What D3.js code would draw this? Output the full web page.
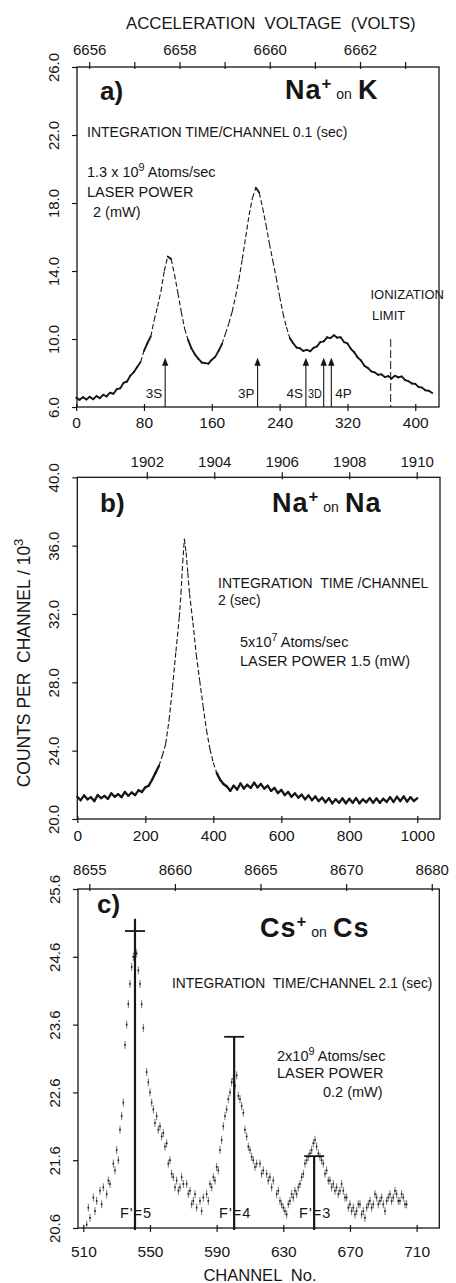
<!DOCTYPE html>
<html>
<head>
<meta charset="utf-8">
<script src="https://cdn.jsdelivr.net/npm/d3@7"></script>
<style>
  body { margin: 0; background: #fff; }
  svg { display: block; }
  text { font-family: 'Liberation Sans', Arial, sans-serif; }
</style>
</head>
<body>
<svg id="chart"></svg>
<script>
// ---------- data ----------

// a) Na+ on K  (channel / counts per channel in 10^3)
const aChannel = [0, 4, 8, 12, 16, 20, 24, 28, 32, 36, 40, 44, 48, 52, 56, 60, 64, 68, 72, 76,
  80, 84, 88, 92, 96, 100, 104, 108, 112, 116, 120, 124, 128, 132, 136, 140, 144, 148, 152, 156,
  160, 164, 168, 172, 176, 180, 184, 188, 192, 196, 200, 204, 208, 212, 216, 220, 224, 228, 232, 236,
  240, 244, 248, 252, 256, 260, 264, 268, 272, 276, 280, 284, 288, 292, 296, 300, 304, 308, 312, 316,
  320, 324, 328, 332, 336, 340, 344, 348, 352, 356, 360, 364, 368, 372, 376, 380, 384, 388, 392, 396,
  400, 404, 408, 412, 416, 420];
const aCounts = [6.55, 6.42, 6.58, 6.44, 6.60, 6.46, 6.64, 6.52, 6.72, 6.62, 6.84, 6.78, 7.05, 7.10, 7.42, 7.50, 7.85, 8.05, 8.35, 8.65,
  9.30, 9.75, 10.15, 11.10, 11.90, 12.80, 14.00, 14.85, 14.70, 13.80, 12.70, 11.60, 10.60, 9.95, 9.45, 9.10, 8.85, 8.62, 8.58, 8.55,
  8.78, 8.95, 9.30, 9.70, 10.30, 10.90, 11.60, 12.50, 13.50, 14.70, 16.00, 17.30, 18.30, 18.90, 18.60, 17.70, 16.70, 15.60, 14.60, 13.60,
  12.50, 11.50, 10.70, 10.05, 9.75, 9.50, 9.45, 9.30, 9.36, 9.28, 9.48, 9.56, 9.82, 9.86, 10.10, 10.05, 10.22, 10.08, 10.10, 9.82,
  9.74, 9.42, 9.22, 8.92, 8.74, 8.42, 8.30, 8.10, 8.04, 7.90, 7.92, 7.76, 7.82, 7.68, 7.84, 7.74, 7.80, 7.58, 7.52, 7.38,
  7.36, 7.18, 7.14, 6.98, 6.96, 6.82];
const aLevelChannel = [105, 214, 271, 292, 301];
const aLevelLabel = ['3S', '3P', '4S', '3D', '4P'];
const aArrowTip = 8.9;
const aIonLimit = 371;
const aIonTop = 10.0;
const aChannelTicks = [0, 80, 160, 240, 320, 400];
const aVoltTicks = [6656, 6657, 6658, 6659, 6660, 6661, 6662, 6663];
const aCountTicks = [6, 10, 14, 18, 22, 26];

// b) Na+ on Na
const bChannel = [0, 10, 20, 30, 40, 50, 60, 70, 80, 90, 100, 110, 120, 130, 140, 150, 160, 170, 180, 190,
  200, 210, 220, 230, 240, 250, 260, 270, 280, 290, 300, 305, 310, 315, 320, 325, 330, 340, 350, 360,
  370, 380, 390, 400, 410, 420, 430, 440, 450, 460, 470, 480, 490, 500, 510, 520, 530, 540, 550, 560,
  570, 580, 590, 600, 610, 620, 630, 640, 650, 660, 670, 680, 690, 700, 710, 720, 730, 740, 750, 760,
  770, 780, 790, 800, 810, 820, 830, 840, 850, 860, 870, 880, 890, 900, 910, 920, 930, 940, 950, 960,
  970, 980, 990, 1000];
const bCounts = [21.30, 21.10, 21.38, 21.15, 21.28, 21.05, 21.40, 21.22, 21.35, 21.18, 21.50, 21.30, 21.45, 21.28, 21.58, 21.36, 21.55, 21.40, 21.68, 21.58,
  21.85, 21.95, 22.30, 22.70, 23.10, 23.70, 24.40, 25.80, 27.70, 29.80, 31.80, 33.20, 35.00, 36.40, 35.60, 34.40, 33.20, 31.50, 29.60, 28.10,
  26.60, 25.20, 24.10, 23.30, 22.70, 22.30, 22.05, 21.90, 21.65, 21.95, 21.72, 22.08, 21.78, 22.00, 21.82, 22.12, 21.85, 22.05, 21.78, 21.95,
  21.65, 21.82, 21.52, 21.70, 21.40, 21.58, 21.30, 21.50, 21.25, 21.42, 21.15, 21.38, 21.10, 21.32, 21.05, 21.25, 20.98, 21.22, 20.92, 21.15,
  20.95, 21.20, 20.92, 21.18, 20.95, 21.22, 20.92, 21.15, 20.98, 21.22, 20.95, 21.20, 20.95, 21.18, 21.00, 21.28, 21.00, 21.30, 21.05, 21.32,
  21.02, 21.28, 21.05, 21.22];
const bChannelTicks = [0, 200, 400, 600, 800, 1000];
const bVoltTicks = [1902, 1904, 1906, 1908, 1910];
const bCountTicks = [20, 24, 28, 32, 36, 40];

// c) Cs+ on Cs
const cChannel = [512, 513, 514, 516, 517, 518, 520, 521, 522, 524, 525, 526, 528, 529, 530, 531, 532, 533, 534, 535,
  536, 537, 538, 539, 540, 541, 542, 543, 544, 545, 546, 548, 549, 550, 551, 552, 553, 554, 555, 556,
  557, 558, 559, 560, 561, 562, 563, 564, 565, 566, 567, 568, 569, 570, 572, 573, 574, 575, 576, 577,
  578, 580, 581, 582, 584, 585, 586, 587, 588, 589, 590, 591, 592, 593, 594, 595, 596, 597, 598, 599,
  600, 601, 602, 603, 604, 605, 606, 607, 608, 609, 610, 611, 612, 613, 614, 616, 617, 618, 620, 621,
  622, 623, 624, 626, 627, 628, 629, 630, 631, 632, 633, 634, 635, 636, 637, 638, 639, 640, 641, 642,
  643, 644, 645, 646, 647, 648, 649, 650, 651, 652, 653, 654, 655, 656, 657, 658, 659, 660, 661, 662,
  663, 664, 665, 666, 667, 668, 669, 670, 671, 672, 673, 674, 675, 676, 677, 678, 679, 680, 681, 682,
  683, 684, 685, 686, 687, 688, 689, 690, 691, 692, 693, 694, 695, 696, 697, 698, 699, 700, 701, 702,
  703, 704];
const cCounts = [20.65, 20.90, 20.75, 21.05, 20.85, 21.00, 21.15, 20.95, 21.20, 21.10, 21.30, 21.25, 21.55, 21.45, 21.75, 21.60, 22.05, 22.25, 22.45, 23.30,
  23.60, 23.90, 24.20, 24.45, 24.60, 24.90, 24.65, 24.40, 24.20, 23.90, 23.55, 22.90, 22.75, 22.60, 22.45, 22.35, 22.15, 22.25, 22.05, 22.10,
  21.95, 22.00, 21.80, 21.85, 21.55, 21.60, 21.40, 21.35, 21.20, 21.30, 21.15, 21.20, 21.35, 21.25, 21.25, 21.10, 21.15, 20.95, 21.00, 21.10,
  20.90, 21.00, 20.85, 21.05, 21.10, 21.00, 21.25, 21.20, 21.35, 21.30, 21.50, 21.45, 21.75, 21.90, 22.10, 22.25, 22.35, 22.50, 22.60, 22.75,
  22.80, 22.70, 22.85, 22.55, 22.50, 22.40, 22.30, 22.05, 21.95, 21.80, 21.75, 21.65, 21.60, 21.50, 21.55, 21.55, 21.40, 21.45, 21.40, 21.30,
  21.35, 21.20, 21.30, 21.10, 21.15, 21.00, 20.95, 20.90, 20.85, 20.80, 20.95, 21.00, 21.10, 21.05, 21.15, 21.10, 21.20, 21.25, 21.35, 21.40,
  21.55, 21.60, 21.65, 21.70, 21.75, 21.85, 21.90, 21.80, 21.70, 21.65, 21.60, 21.55, 21.40, 21.45, 21.30, 21.30, 21.20, 21.25, 21.15, 21.20,
  21.10, 21.15, 21.25, 21.15, 21.05, 21.05, 20.90, 20.95, 20.85, 20.90, 20.80, 20.85, 20.95, 20.95, 20.80, 20.85, 20.75, 20.90, 20.95, 21.00,
  20.90, 20.95, 21.10, 21.05, 20.95, 21.00, 21.05, 20.95, 20.85, 21.00, 21.05, 21.10, 21.00, 21.05, 21.15, 21.10, 21.00, 21.00, 21.10, 21.05,
  20.95, 20.95];
const cMarkerChannel = [541, 600.5, 648.5];
const cMarkerTop = [25.16, 23.42, 21.66];
const cMarkerBar = [24.98, 23.42, 21.66];
const cMarkerLabel = ["F'=5", "F'=4", "F'=3"];
const cChannelTicks = [510, 550, 590, 630, 670, 710];
const cVoltTicks = [8655, 8660, 8665, 8670, 8675];
const cVoltLabels = ['8655', '8660', '8665', '8670', '8680'];
const cCountTicks = [20.6, 21.6, 22.6, 23.6, 24.6, 25.6];

// ---------- layout ----------
const ink = '#161616';
const width = 456;
const height = 1283;

const svg = d3.select('#chart')
    .attr('width', width)
    .attr('height', height)
    .style('background-color', 'white');

// pixel boxes of the three frames
const boxA = { left: 77, right: 439, top: 67, bottom: 407 };
const boxB = { left: 77.3, right: 440, top: 477.3, bottom: 819 };
const boxC = { left: 78, right: 439.3, top: 889, bottom: 1228 };

// scales
const xA = d3.scaleLinear().domain([1, 428]).range([boxA.left, boxA.right]);
const vA = d3.scaleLinear().domain([6655.73, 6663.75]).range([boxA.left, boxA.right]);
const yA = d3.scaleLinear().domain([6, 26]).range([boxA.bottom, boxA.top]);

const xB = d3.scaleLinear().domain([0, 1066.8]).range([boxB.left, boxB.right]);
const vB = d3.scaleLinear().domain([1899.94, 1910.69]).range([boxB.left, boxB.right]);
const yB = d3.scaleLinear().domain([20, 40]).range([boxB.bottom, boxB.top]);

const xC = d3.scaleLinear().domain([506.8, 723.6]).range([boxC.left, boxC.right]);
const vC = d3.scaleLinear().domain([8654.34, 8675.44]).range([boxC.left, boxC.right]);
const yC = d3.scaleLinear().domain([20.6, 25.6]).range([boxC.bottom, boxC.top]);

// frame + axes of one panel
function drawFrame(box, x, v, y, opt) {
    svg.append('rect')
        .attr('x', box.left).attr('y', box.top)
        .attr('width', box.right - box.left).attr('height', box.bottom - box.top)
        .attr('fill', 'none').attr('stroke', ink).attr('stroke-width', 1.3);

    // top axis (voltage)
    const gTop = svg.append('g')
        .attr('transform', `translate(0,${box.top})`)
        .call(d3.axisTop(v).tickValues(opt.voltTicks).tickSize(5)
            .tickFormat((d, i) => opt.voltLabels[i]));
    gTop.select('.domain').remove();
    gTop.selectAll('.tick line').attr('y1', 2).attr('stroke', ink).attr('stroke-width', 1.2);
    gTop.selectAll('.tick text')
        .attr('y', opt.topLabelY).attr('dy', 0)
        .attr('font-size', 15).attr('fill', ink);

    // bottom axis (channel)
    const gBot = svg.append('g')
        .attr('transform', `translate(0,${box.bottom})`)
        .call(d3.axisBottom(x).tickValues(opt.channelTicks).tickSize(4).tickFormat(d3.format('d')));
    gBot.select('.domain').remove();
    gBot.selectAll('.tick line').attr('y1', -3).attr('stroke', ink).attr('stroke-width', 1.2);
    gBot.selectAll('.tick text')
        .attr('y', opt.bottomLabelY).attr('dy', 0)
        .attr('font-size', 15.5).attr('fill', ink);

    // left axis (counts), labels turned
    const gLeft = svg.append('g')
        .attr('transform', `translate(${box.left},0)`)
        .call(d3.axisLeft(y).tickValues(opt.countTicks).tickSize(5).tickFormat(d3.format('.1f')));
    gLeft.select('.domain').remove();
    gLeft.selectAll('.tick line').attr('stroke', ink).attr('stroke-width', 1.2);
    gLeft.selectAll('.tick text')
        .attr('x', 0).attr('dy', 0)
        .attr('text-anchor', 'middle')
        .attr('transform', 'translate(-18.5,0) rotate(-90)')
        .attr('font-size', 15).attr('fill', ink);
}

// noisy trace: steep parts look like a broken line, flat parts like a thick band
function drawTrace(xs, ys, x, y, bandWidth) {
    const segs = d3.pairs(d3.zip(xs, ys)).map(([p, q]) => {
        const s = { x1: x(p[0]), y1: y(p[1]), x2: x(q[0]), y2: y(q[1]) };
        s.steep = Math.abs(s.y2 - s.y1) > 3 * Math.abs(s.x2 - s.x1);
        return s;
    });
    svg.append('g').selectAll('line')
        .data(segs)
        .join('line')
        .attr('x1', (d) => d.x1).attr('y1', (d) => d.y1)
        .attr('x2', (d) => d.x2).attr('y2', (d) => d.y2)
        .attr('stroke', ink)
        .attr('stroke-linecap', (d) => (d.steep ? 'butt' : 'round'))
        .attr('stroke-width', (d) => (d.steep ? 1.1 : bandWidth))
        .attr('stroke-dasharray', (d) => (d.steep ? '5,2.5' : null));
}

function addText(x, y, str, size, extra) {
    const t = svg.append('text')
        .attr('x', x).attr('y', y)
        .attr('font-size', size)
        .attr('fill', ink)
        .text(str);
    if (extra) extra(t);
    return t;
}

// text with one raised part: before, sup, after
function addSup(x, y, before, sup, after, size) {
    const t = svg.append('text').attr('x', x).attr('y', y).attr('font-size', size).attr('fill', ink);
    t.append('tspan').text(before);
    t.append('tspan').attr('dy', -size * 0.42).attr('font-size', size * 0.75).text(sup);
    t.append('tspan').attr('dy', size * 0.42).text(after);
    return t;
}

// title like "Na+ on K"
function addTitle(x, y, a, b, big) {
    const t = svg.append('text').attr('x', x).attr('y', y).attr('fill', ink);
    t.append('tspan').attr('font-size', big).attr('font-weight', 'bold').attr('letter-spacing', 1).text(a);
    t.append('tspan').attr('font-size', big * 0.62).attr('font-weight', 'bold').attr('dy', -big * 0.36).text('+');
    t.append('tspan').attr('font-size', big * 0.52).attr('dy', big * 0.36).attr('dx', 5).text('on');
    t.append('tspan').attr('font-size', big).attr('font-weight', 'bold').attr('dx', 6).attr('letter-spacing', 1).text(b);
}

// ---------- panel a ----------
drawFrame(boxA, xA, vA, yA, {
    voltTicks: aVoltTicks,
    voltLabels: aVoltTicks.map((d) => (d % 2 === 0 ? String(d) : '')),
    channelTicks: aChannelTicks,
    countTicks: aCountTicks,
    topLabelY: -12,
    bottomLabelY: 21
});
drawTrace(aChannel, aCounts, xA, yA, 1.9);

// level arrows
const arrows = svg.append('g');
aLevelChannel.forEach((ch, i) => {
    const ax = xA(ch);
    const tip = yA(aArrowTip);
    arrows.append('line')
        .attr('x1', ax).attr('x2', ax)
        .attr('y1', tip + 6).attr('y2', boxA.bottom)
        .attr('stroke', ink).attr('stroke-width', 1.1);
    arrows.append('path')
        .attr('d', `M${ax},${tip} L${ax - 3.2},${tip + 8} L${ax + 3.2},${tip + 8} Z`)
        .attr('fill', ink);
});
// labels: left of their arrow, 3D squeezed between the 4S and 3D arrows, 4P to the right
aLevelLabel.forEach((lab, i) => {
    const ax = xA(aLevelChannel[i]);
    const t = arrows.append('text')
        .attr('y', 398)
        .attr('font-size', 13.5)
        .attr('fill', ink)
        .text(lab);
    if (i === aLevelLabel.length - 1) {
        t.attr('x', ax + 4).attr('text-anchor', 'start');
    } else if (lab === '3D') {
        const prev = xA(aLevelChannel[i - 1]);
        t.attr('x', (prev + ax) / 2).attr('text-anchor', 'middle')
            .attr('textLength', ax - prev - 4).attr('lengthAdjust', 'spacingAndGlyphs');
    } else {
        t.attr('x', ax - 3).attr('text-anchor', 'end');
    }
});

// ionization limit
svg.append('line')
    .attr('x1', xA(aIonLimit)).attr('x2', xA(aIonLimit))
    .attr('y1', yA(aIonTop)).attr('y2', boxA.bottom)
    .attr('stroke', ink).attr('stroke-width', 1)
    .attr('stroke-dasharray', '8,3');
addText(370.5, 299, 'IONIZATION', 13);
addText(372, 320, 'LIMIT', 13);

addText(126, 29, 'ACCELERATION  VOLTAGE  (VOLTS)', 16.8, (t) => t.style('white-space', 'pre'));
addText(100, 100, 'a)', 26, (t) => t.attr('font-weight', 'bold'));
addTitle(285, 99, 'Na', 'K', 27);
addText(87, 137, 'INTEGRATION TIME/CHANNEL 0.1 (sec)', 14);
addSup(87, 177, '1.3 x 10', '9', ' Atoms/sec', 14.5);
addText(87, 197, 'LASER POWER', 14.5);
addText(93, 217, '2 (mW)', 14.5);

// ---------- panel b ----------
drawFrame(boxB, xB, vB, yB, {
    voltTicks: bVoltTicks,
    voltLabels: bVoltTicks.map(String),
    channelTicks: bChannelTicks,
    countTicks: bCountTicks,
    topLabelY: -10.5,
    bottomLabelY: 22
});
drawTrace(bChannel, bCounts, xB, yB, 2.3);

addText(100, 512, 'b)', 26, (t) => t.attr('font-weight', 'bold'));
addTitle(272, 512, 'Na', 'Na', 27);
addText(218, 588, 'INTEGRATION  TIME /CHANNEL', 14, (t) => t.style('white-space', 'pre'));
addText(218, 605, '2 (sec)', 14);
addSup(240, 647, '5x10', '7', ' Atoms/sec', 14.5);
addText(240, 666, 'LASER POWER 1.5 (mW)', 14.5);

// y axis title
const yTitle = svg.append('text')
    .attr('transform', 'translate(29.5,663) rotate(-90)')
    .attr('text-anchor', 'middle')
    .attr('font-size', 17.5)
    .attr('fill', ink)
    .style('white-space', 'pre');
yTitle.append('tspan').text('COUNTS PER  CHANNEL / 10');
yTitle.append('tspan').attr('dy', -7).attr('font-size', 13).text('3');

// ---------- panel c ----------
drawFrame(boxC, xC, vC, yC, {
    voltTicks: cVoltTicks,
    voltLabels: cVoltLabels,
    channelTicks: cChannelTicks,
    countTicks: cCountTicks,
    topLabelY: -14,
    bottomLabelY: 28.5
});

svg.append('clipPath').attr('id', 'clipC')
    .append('rect')
    .attr('x', boxC.left).attr('y', boxC.top)
    .attr('width', boxC.right - boxC.left).attr('height', boxC.bottom - boxC.top);

const cPts = d3.zip(cChannel, cCounts);
const gC = svg.append('g').attr('clip-path', 'url(#clipC)');
gC.selectAll('line.bar')
    .data(cPts)
    .join('line')
    .attr('class', 'bar')
    .attr('x1', (d) => xC(d[0])).attr('x2', (d) => xC(d[0]))
    .attr('y1', (d) => yC(d[1]) - 4).attr('y2', (d) => yC(d[1]) + 4)
    .attr('stroke', '#777').attr('stroke-width', 1);
gC.selectAll('rect.pt')
    .data(cPts)
    .join('rect')
    .attr('class', 'pt')
    .attr('x', (d) => xC(d[0]) - 0.8).attr('y', (d) => yC(d[1]) - 0.8)
    .attr('width', 1.6).attr('height', 1.6)
    .attr('fill', ink);

// hyperfine markers
cMarkerChannel.forEach((ch, i) => {
    const mx = xC(ch);
    svg.append('line')
        .attr('x1', mx).attr('x2', mx)
        .attr('y1', yC(cMarkerTop[i])).attr('y2', boxC.bottom + 2)
        .attr('stroke', ink).attr('stroke-width', 2.2);
    svg.append('line')
        .attr('x1', mx - 10).attr('x2', mx + 10)
        .attr('y1', yC(cMarkerBar[i])).attr('y2', yC(cMarkerBar[i]))
        .attr('stroke', ink).attr('stroke-width', 1.8);
    svg.append('text')
        .attr('x', mx + 1).attr('y', 1218)
        .attr('text-anchor', 'middle')
        .attr('font-size', 14.5)
        .attr('letter-spacing', 1)
        .attr('fill', ink)
        .text(cMarkerLabel[i]);
});

addText(97, 913, 'c)', 26, (t) => t.attr('font-weight', 'bold'));
addTitle(260, 937, 'Cs', 'Cs', 27);
addText(172, 988, 'INTEGRATION  TIME/CHANNEL 2.1 (sec)', 13.8, (t) => t.style('white-space', 'pre'));
addSup(277, 1061, '2x10', '9', ' Atoms/sec', 14.5);
addText(277, 1078, 'LASER POWER', 14.5);
addText(323, 1097, '0.2 (mW)', 14.5);

addText(260, 1281, 'CHANNEL  No.', 16.5, (t) => t.attr('text-anchor', 'middle').style('white-space', 'pre'));
</script>
</body>
</html>
